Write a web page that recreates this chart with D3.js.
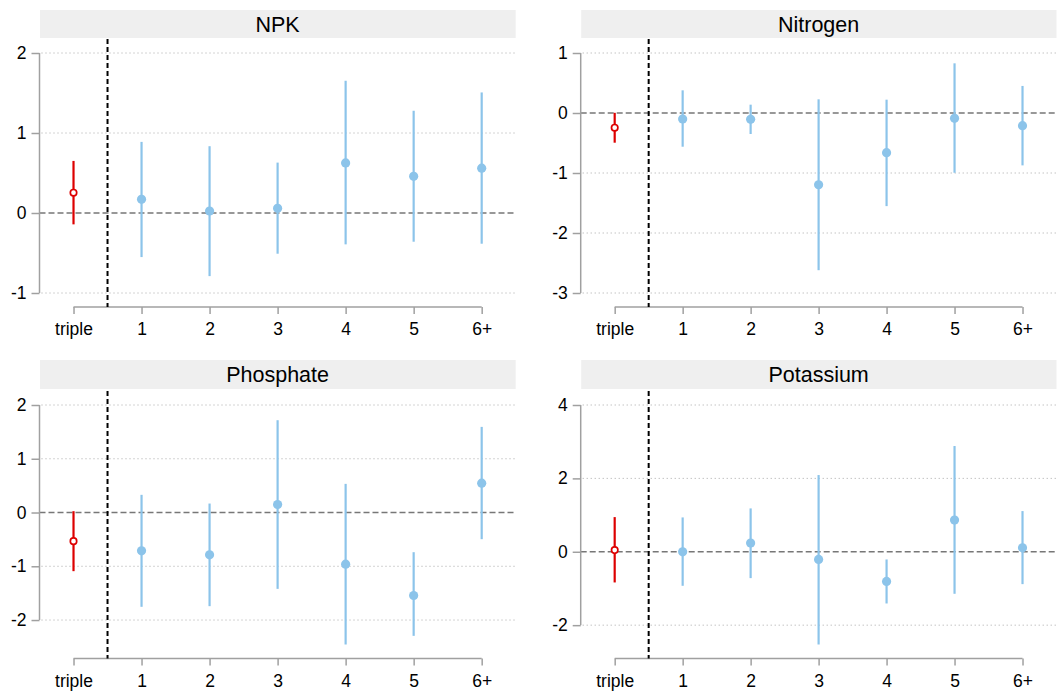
<!DOCTYPE html>
<html>
<head>
<meta charset="utf-8">
<script src="https://cdn.jsdelivr.net/npm/d3@7"></script>
<style>
  body { margin: 0; background: #fff; }
  svg { display: block; font-family: "Liberation Sans", Arial, sans-serif; }
</style>
</head>
<body>
<svg id="chart"></svg>
<script>
// categories on the x axis
const categories = ["triple", "1", "2", "3", "4", "5", "6+"];

// panel titles and y tick values
const titles = ["NPK", "Nitrogen", "Phosphate", "Potassium"];
const yTicks = [[-1, 0, 1, 2], [-3, -2, -1, 0, 1], [-2, -1, 0, 1, 2], [-2, 0, 2, 4]];

// point estimates
const estNPK = [0.254, 0.171, 0.025, 0.059, 0.626, 0.459, 0.560];
const estNitrogen = [-0.245, -0.100, -0.106, -1.196, -0.662, -0.089, -0.211];
const estPhosphate = [-0.533, -0.713, -0.787, 0.149, -0.961, -1.544, 0.546];
const estPotassium = [0.045, 0.0, 0.236, -0.209, -0.809, 0.864, 0.109];

// lower bounds
const loNPK = [-0.142, -0.551, -0.789, -0.509, -0.392, -0.359, -0.384];
const loNitrogen = [-0.495, -0.562, -0.350, -2.62, -1.552, -0.996, -0.873];
const loPhosphate = [-1.091, -1.754, -1.742, -1.420, -2.455, -2.294, -0.496];
const loPotassium = [-0.836, -0.927, -0.718, -2.527, -1.409, -1.145, -0.882];

// upper bounds
const hiNPK = [0.651, 0.889, 0.835, 0.630, 1.653, 1.278, 1.507];
const hiNitrogen = [0.003, 0.378, 0.139, 0.228, 0.222, 0.828, 0.451];
const hiPhosphate = [0.025, 0.329, 0.167, 1.717, 0.533, -0.738, 1.593];
const hiPotassium = [0.945, 0.936, 1.182, 2.091, -0.209, 2.882, 1.109];

const ests = [estNPK, estNitrogen, estPhosphate, estPotassium];
const los = [loNPK, loNitrogen, loPhosphate, loPotassium];
const his = [hiNPK, hiNitrogen, hiPhosphate, hiPotassium];

const width = 1059, height = 693;
const svg = d3.select("#chart").attr("width", width).attr("height", height);

// layout of the 2x2 grid
const colAxisX = [39.5, 580.7];
const colRightX = [515.7, 1056.5];
const rowStripTop = [10, 360];
const rowStripBottom = [38, 389];
const rowPlotTop = [39, 391];
const rowAxisY = [307, 658.5];

const blue = "#8cc4ea";
const red = "#dd0000";

titles.forEach((title, p) => {
  const col = p % 2, row = Math.floor(p / 2);
  const left = colAxisX[col], right = colRightX[col];
  const top = rowPlotTop[row], axisY = rowAxisY[row];
  const g = svg.append("g").attr("id", "panel" + p);

  const est = ests[p], lo = los[p], hi = his[p], ticks = yTicks[p];

  const x = d3.scalePoint().domain(categories).range([left, right]).padding(0.5);
  const y = d3.scaleLinear()
    .domain(d3.extent(ticks.concat(lo, hi)))
    .range([axisY - 14, top + 14]);

  // strip
  g.append("rect")
    .attr("x", left + 0.5).attr("y", rowStripTop[row])
    .attr("width", right - left - 0.5).attr("height", rowStripBottom[row] - rowStripTop[row])
    .attr("fill", "#efefef");
  g.append("text")
    .attr("x", (left + right) / 2).attr("y", (rowStripTop[row] + rowStripBottom[row]) / 2)
    .attr("dy", "0.36em")
    .attr("text-anchor", "middle")
    .attr("font-size", 21.5).attr("fill", "#000")
    .text(title);

  // grid lines
  g.append("g").selectAll("line")
    .data(ticks.filter(t => t !== 0))
    .join("line")
    .attr("x1", left + 2).attr("x2", right)
    .attr("y1", d => y(d)).attr("y2", d => y(d))
    .attr("stroke", "#a8a8a8").attr("stroke-width", 1)
    .attr("stroke-dasharray", "1,3");

  // zero line
  g.append("line")
    .attr("x1", left).attr("x2", right)
    .attr("y1", y(0)).attr("y2", y(0))
    .attr("stroke", "#777").attr("stroke-width", 1.5)
    .attr("stroke-dasharray", "6,3");

  // y axis
  const yAxis = d3.axisLeft(y).tickValues(ticks).tickSize(8).tickPadding(5).tickFormat(d3.format("d"));
  const yG = g.append("g").attr("transform", `translate(${left},0)`).call(yAxis);
  yG.select(".domain").remove();
  yG.append("line")
    .attr("x1", 0).attr("x2", 0)
    .attr("y1", y(d3.max(ticks))).attr("y2", y(d3.min(ticks)))
    .attr("stroke", "#a0a0a0").attr("stroke-width", 1.5);
  yG.selectAll(".tick line").attr("stroke", "#a0a0a0").attr("stroke-width", 1.5);
  yG.selectAll(".tick text").attr("font-size", 17.5).attr("fill", "#000")
    .text(d => d < 0 ? "-" + Math.abs(d) : d);

  // x axis
  const xAxis = d3.axisBottom(x).tickSize(7).tickPadding(9);
  const xG = g.append("g").attr("transform", `translate(0,${axisY})`).call(xAxis);
  xG.select(".domain").remove();
  xG.append("line")
    .attr("x1", x(categories[0])).attr("x2", x(categories[categories.length - 1]))
    .attr("y1", 0).attr("y2", 0)
    .attr("stroke", "#a0a0a0").attr("stroke-width", 1.5);
  xG.selectAll(".tick line").attr("stroke", "#a0a0a0").attr("stroke-width", 1.5);
  xG.selectAll(".tick text").attr("font-size", 17.5).attr("fill", "#000");

  // separator between triple and the rest
  const sepX = (x(categories[0]) + x(categories[1])) / 2;
  g.append("line")
    .attr("x1", sepX).attr("x2", sepX)
    .attr("y1", top).attr("y2", axisY)
    .attr("stroke", "#000").attr("stroke-width", 2)
    .attr("stroke-dasharray", "5,3");

  // error bars
  g.append("g").selectAll("line")
    .data(categories)
    .join("line")
    .attr("x1", d => x(d)).attr("x2", d => x(d))
    .attr("y1", (d, i) => y(lo[i])).attr("y2", (d, i) => y(hi[i]))
    .attr("stroke", (d, i) => i === 0 ? red : blue)
    .attr("stroke-width", 2.2);

  // points
  g.append("g").selectAll("circle")
    .data(categories)
    .join("circle")
    .attr("cx", d => x(d))
    .attr("cy", (d, i) => y(est[i]))
    .attr("r", (d, i) => i === 0 ? 3.2 : 4.6)
    .attr("fill", (d, i) => i === 0 ? "#fff" : blue)
    .attr("stroke", (d, i) => i === 0 ? red : "none")
    .attr("stroke-width", 1.7);
});
</script>
</body>
</html>
